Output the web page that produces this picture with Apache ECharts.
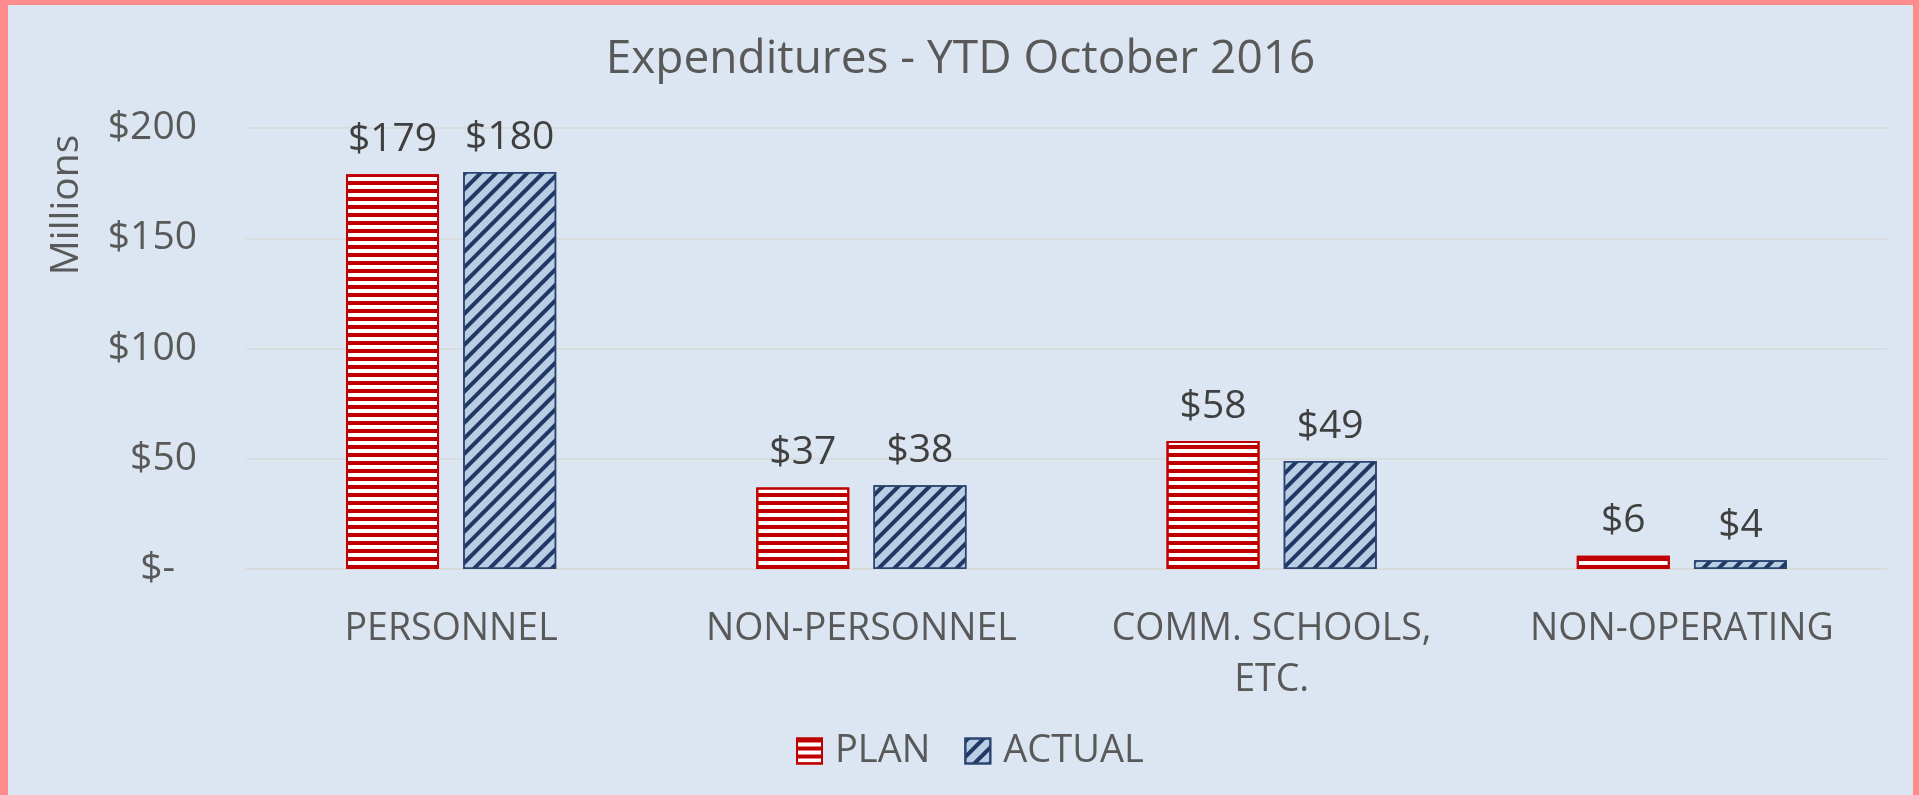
<!DOCTYPE html>
<html>
<head>
<meta charset="UTF-8">
<title>Expenditures - YTD October 2016</title>
<script src="https://cdn.jsdelivr.net/npm/echarts@6/dist/echarts.min.js"></script>
<style>
  html, body { margin: 0; padding: 0; width: 1919px; height: 795px; overflow: hidden; background: #ff8c8c; }
  #chart { position: absolute; left: 8px; top: 5px; width: 1905px; height: 790px; background: #dce6f2; }
</style>
</head>
<body>
<div id="chart"></div>
<script>
// data (millions of dollars)
const categories = ['PERSONNEL', 'NON-PERSONNEL', 'COMM. SCHOOLS, ETC.', 'NON-OPERATING'];
const planValues = [179, 37, 58, 6];
const actualValues = [180, 38, 49, 4];
const yTicks = [0, 50, 100, 150, 200];

const textGrey = '#595959';
const font = 'Open Sans';

const chart = echarts.init(document.getElementById('chart'));

const option = {
    backgroundColor: '#dce6f2',
    textStyle: { fontFamily: font },
    title: {
        text: 'Expenditures - YTD October 2016',
        left: 'center',
        top: 32,
        padding: 0,
        textStyle: { fontFamily: font, fontSize: 46, fontWeight: 'normal', color: textGrey }
    },
    legend: {
        top: 727,
        left: 788,
        padding: 0,
        icon: 'rect',
        itemWidth: 25,
        itemHeight: 25,
        itemGap: 34,
        textStyle: { fontFamily: font, fontSize: 38, color: textGrey, padding: [0, 0, 0, 8] }
    },
    grid: { left: 238, right: 26, top: 123, bottom: 226 },
    xAxis: {
        type: 'category',
        data: categories,
        axisTick: { show: false },
        axisLine: { lineStyle: { color: '#d9d9d9', width: 1.5 } },
        axisLabel: {
            interval: 0,
            margin: 35,
            fontFamily: font,
            fontSize: 37.5,
            lineHeight: 51,
            color: textGrey,
            formatter: (v) => v.replace(', ', ',\n')
        }
    },
    yAxis: {
        type: 'value',
        min: yTicks[0],
        max: yTicks[yTicks.length - 1],
        interval: yTicks[1] - yTicks[0],
        axisLine: { show: false },
        axisTick: { show: false },
        splitLine: { lineStyle: { color: '#d9d9d9', width: 1.5 } },
        axisLabel: {
            margin: 49,
            fontFamily: font,
            fontSize: 39,
            color: textGrey,
            formatter: (v) => v === 0 ? '{z|$-}' : '$' + v,
            rich: { z: { fontFamily: font, fontSize: 39, color: textGrey, padding: [0, 22, 0, 0] } }
        }
    },
    graphic: [{
        type: 'text',
        x: 59,
        y: 200,
        rotation: Math.PI / 2,
        style: {
            text: 'Millions',
            font: '39px "Open Sans"',
            fill: textGrey,
            align: 'center',
            verticalAlign: 'middle'
        }
    }],
    series: [
        {
            name: 'PLAN',
            type: 'bar',
            data: planValues,
            barWidth: 93,
            barGap: '26%',
            itemStyle: {
                color: '#ffffff',
                borderColor: '#c00000',
                borderWidth: 2,
                decal: {
                    symbol: 'rect',
                    symbolSize: 1,
                    color: '#c00000',
                    dashArrayX: [1, 0],
                    dashArrayY: [4, 4],
                    rotation: 0
                }
            },
            label: {
                show: true,
                position: 'top',
                distance: 15,
                fontFamily: font,
                fontSize: 39,
                color: '#404040',
                formatter: (p) => '$' + p.value
            }
        },
        {
            name: 'ACTUAL',
            type: 'bar',
            data: actualValues,
            barWidth: 93,
            itemStyle: {
                color: '#b9cde5',
                borderColor: '#2a4670',
                borderWidth: 1.5,
                decal: {
                    symbol: 'rect',
                    symbolSize: 1,
                    color: '#1f3864',
                    dashArrayX: [1, 0],
                    dashArrayY: [4, 7],
                    rotation: -Math.PI / 4
                }
            },
            label: {
                show: true,
                position: 'top',
                distance: 15,
                fontFamily: font,
                fontSize: 39,
                color: '#404040',
                formatter: (p) => '$' + p.value
            }
        }
    ]
};

chart.setOption(option);
</script>
</body>
</html>
